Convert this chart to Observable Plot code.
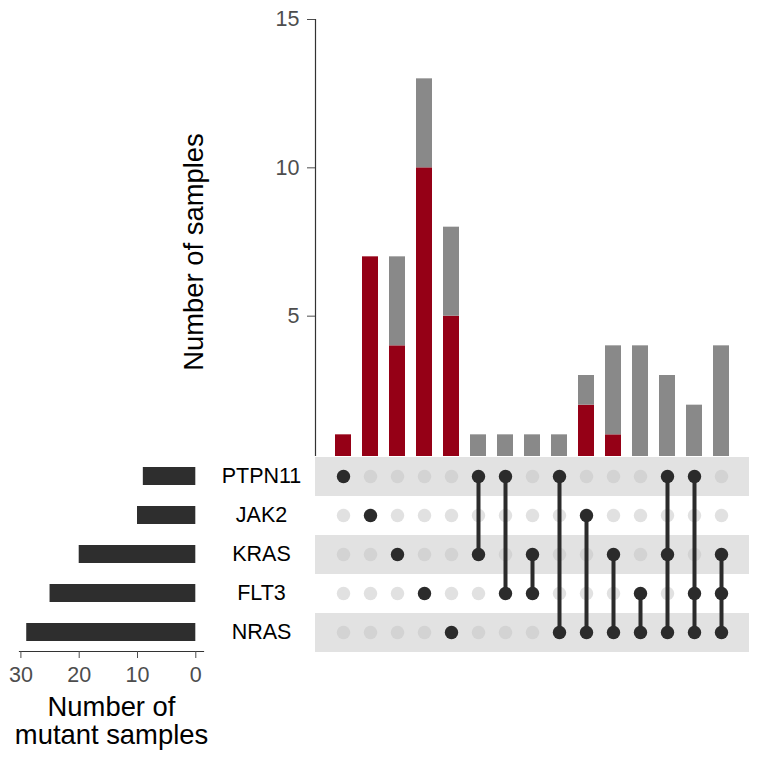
<!DOCTYPE html>
<html><head><meta charset="utf-8">
<script src="https://cdn.jsdelivr.net/npm/d3@7"></script>
<script src="https://cdn.jsdelivr.net/npm/@observablehq/plot@0.6"></script>
<style>
html,body{margin:0;padding:0;background:#fff;}
#wrap{position:relative;width:768px;height:768px;overflow:hidden;}
#wrap > svg{position:absolute;margin:0;}
</style></head><body><div id="wrap"></div>
<script>
// ---- data ----
const genes = ["PTPN11", "JAK2", "KRAS", "FLT3", "NRAS"];
const setSizes = [9, 10, 20, 25, 29];
const intersections = [
  ["PTPN11"], ["JAK2"], ["KRAS"], ["FLT3"], ["NRAS"],
  ["PTPN11", "KRAS"], ["PTPN11", "FLT3"], ["KRAS", "FLT3"], ["PTPN11", "NRAS"],
  ["JAK2", "NRAS"], ["KRAS", "NRAS"], ["FLT3", "NRAS"],
  ["PTPN11", "KRAS", "NRAS"], ["PTPN11", "FLT3", "NRAS"], ["KRAS", "FLT3", "NRAS"]
];
const totalCounts = [1, 7, 7, 13, 8, 1, 1, 1, 1, 3, 4, 4, 3, 2, 4];
const highlightedCounts = [1, 7, 4, 10, 5, 0, 0, 0, 0, 2, 1, 0, 0, 0, 0];
const yTicks = [0, 5, 10, 15];
const sizeTicks = [0, 10, 20, 30];
const yTitle = "Number of samples";
const sizeTitle = "Number of\nmutant samples";

// ---- derived tables ----
const cols = intersections.map((_, i) => i);
const barRows = cols.flatMap(i => [
  {col: i, part: "highlight", n: highlightedCounts[i]},
  {col: i, part: "rest", n: totalCounts[i] - highlightedCounts[i]}
]);
const dotRows = cols.flatMap(i => genes.map(g => ({col: i, gene: g, on: intersections[i].includes(g)})));
const linkRows = cols.filter(i => intersections[i].length > 1).map(i => {
  const idx = intersections[i].map(g => genes.indexOf(g));
  return {col: i, g1: genes[Math.min(...idx)], g2: genes[Math.max(...idx)]};
});
const stripeGenes = genes.filter((g, i) => i % 2 === 0);
const sizeRows = genes.map((g, i) => ({gene: g, size: setSizes[i]}));

const font = '"Liberation Sans", Arial, Helvetica, sans-serif';
const xCols = {type: "band", domain: cols, paddingInner: 0.41, paddingOuter: 0.72, axis: null};
const dark = "#2b2b2b";

// ---- top: intersection sizes ----
const topChart = Plot.plot({
  width: 768, height: 470, marginLeft: 315, marginRight: 19, marginTop: 19, marginBottom: 6,
  style: {fontFamily: font, fontSize: "21.5px", background: "transparent", overflow: "visible"},
  x: xCols,
  y: {domain: [0, 15], axis: null},
  color: {domain: ["highlight", "rest"], range: ["#950016", "#898989"]},
  marks: [
    Plot.barY(barRows, {x: "col", y: "n", fill: "part"}),
    Plot.frame({anchor: "left", stroke: "#333", strokeWidth: 1.2}),
    Plot.axisY(yTicks, {tickSize: 8, tickPadding: 8, color: "#4d4d4d", fontSize: 21.5, label: null}),
    Plot.text([yTitle], {frameAnchor: "left", textAnchor: "middle", rotate: -90, dx: -121, dy: 10, fontSize: 27.4, fill: "black"})
  ]
});

// ---- matrix ----
const matrix = Plot.plot({
  width: 768, height: 312, marginLeft: 315, marginRight: 19, marginTop: 0, marginBottom: 117,
  style: {fontFamily: font, fontSize: "21.5px", background: "white", overflow: "visible"},
  x: xCols,
  y: {type: "point", domain: genes, padding: 0.5, axis: null},
  marks: [
    Plot.ruleY(stripeGenes, {y: d => d, stroke: "#e2e2e2", strokeWidth: 39}),
    Plot.dot(dotRows.filter(d => !d.on), {x: "col", y: "gene", r: 6.7, fill: "#c4c4c4", fillOpacity: 0.5}),
    Plot.ruleX(linkRows, {x: "col", y1: "g1", y2: "g2", stroke: dark, strokeWidth: 4}),
    Plot.dot(dotRows.filter(d => d.on), {x: "col", y: "gene", r: 6.7, fill: dark}),
    Plot.text(genes, {y: d => d, frameAnchor: "left", dx: -54, textAnchor: "middle", fontSize: 21.5, fill: "black"})
  ]
});

// ---- set sizes ----
const sizes = Plot.plot({
  width: 214, height: 312, marginLeft: 19, marginRight: 11, marginTop: 0, marginBottom: 117,
  style: {fontFamily: font, fontSize: "21.5px", background: "transparent", overflow: "visible"},
  x: {domain: [30.24, -1.32], axis: null},
  y: {type: "band", domain: genes, paddingInner: 0.54, paddingOuter: 0.27, axis: null},
  marks: [
    Plot.barX(sizeRows, {y: "gene", x: "size", fill: "#2e2e2e"}),
    Plot.frame({anchor: "bottom", stroke: "#333", strokeWidth: 1.2}),
    Plot.axisX(sizeTicks, {anchor: "bottom", tickSize: 7, tickPadding: 8, color: "#4d4d4d", fontSize: 21.5, label: null}),
    Plot.text([sizeTitle], {frameAnchor: "bottom", textAnchor: "middle", lineAnchor: "top", dy: 44.5, fontSize: 27.4, lineHeight: 1.03, fill: "black"})
  ]
});

const wrap = document.getElementById("wrap");
function place(svg, left, top) {
  svg.style.position = "absolute";
  svg.style.left = left + "px";
  svg.style.top = top + "px";
  wrap.appendChild(svg);
}
place(topChart, 0, 0);
place(matrix, 0, 456);
place(sizes, 0, 456);
</script>
</body></html>
